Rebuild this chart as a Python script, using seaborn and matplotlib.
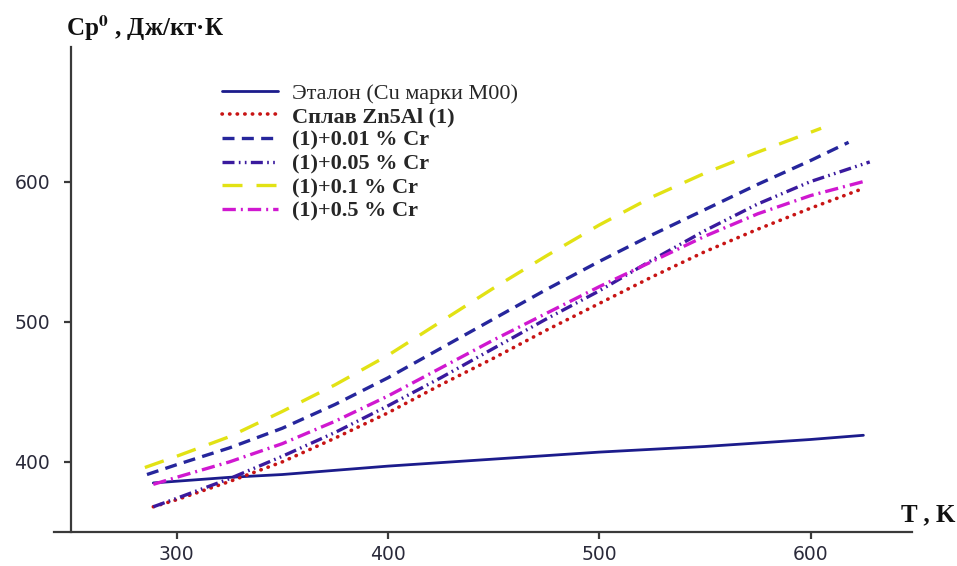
import matplotlib
matplotlib.use("Agg")
import matplotlib.pyplot as plt
import seaborn as sns
import pandas as pd

# ---- data ----
T_etalon = [289, 325, 350, 400, 450, 500, 550, 600, 625]
cp_etalon = [385, 389, 391, 397, 402, 407, 411, 416, 419]

T_zn5al = [289, 300, 325, 350, 375, 400, 425, 450, 475, 500, 525, 550, 575, 600, 623]
cp_zn5al = [368, 373, 386, 400, 417, 435, 455, 474, 494, 513, 532, 550, 566, 581, 594]

T_cr001 = [286, 300, 325, 350, 375, 400, 425, 450, 475, 500, 525, 550, 575, 600, 618]
cp_cr001 = [391, 398, 410, 424, 441, 460, 481, 502, 523, 543, 562, 580, 598, 615, 628]

T_cr005 = [289, 300, 325, 350, 375, 400, 425, 450, 475, 500, 525, 550, 575, 600, 628]
cp_cr005 = [368, 374, 388, 404, 421, 440, 460, 481, 502, 522, 544, 565, 584, 600, 614]

T_cr01 = [285, 300, 325, 350, 375, 400, 425, 450, 475, 500, 525, 550, 575, 605]
cp_cr01 = [396, 404, 418, 436, 455, 476, 500, 524, 547, 569, 589, 606, 621, 638]

T_cr05 = [289, 300, 325, 350, 375, 400, 425, 450, 475, 500, 525, 550, 575, 600, 625]
cp_cr05 = [384, 389, 400, 413, 429, 447, 467, 487, 506, 525, 543, 561, 577, 590, 600]

labels = ["Эталон (Cu марки М00)", "Сплав Zn5Al (1)", "(1)+0.01 % Cr",
          "(1)+0.05 % Cr", "(1)+0.1 % Cr", "(1)+0.5 % Cr"]
x_ticks = [300, 400, 500, 600]
y_ticks = [400, 500, 600]

series = [(T_etalon, cp_etalon), (T_zn5al, cp_zn5al), (T_cr001, cp_cr001),
          (T_cr005, cp_cr005), (T_cr01, cp_cr01), (T_cr05, cp_cr05)]

frames = []
for lab, (t, c) in zip(labels, series):
    frames.append(pd.DataFrame({"T": t, "Cp": c, "series": lab}))
df = pd.concat(frames, ignore_index=True)

# ---- styling ----
sns.set_theme(style="white")
plt.rcParams["font.family"] = ["DejaVu Sans"]
plt.rcParams["mathtext.fontset"] = "stix"

colors = ["#1c1c8c", "#c81414", "#26269c", "#3a1a9e", "#e2e214", "#d018d0"]
styles = ["-", (0, (0.1, 2.0)), (0, (3.6, 2.2)), (0, (3.6, 1.3, 0.5, 1.3, 0.5, 1.3)),
          (0, (6.0, 4.2)), (0, (4.0, 1.5, 0.6, 1.5))]
widths = [2.0, 2.6, 2.4, 2.4, 2.4, 2.4]

fig = plt.figure(figsize=(9.57, 5.66), dpi=100)
ax = fig.add_axes([54 / 957, (566 - 532) / 566, (912 - 54) / 957, (532 - 47) / 566])

for i, lab in enumerate(labels):
    sub = df[df["series"] == lab]
    sns.lineplot(data=sub, x="T", y="Cp", ax=ax, color=colors[i], linestyle=styles[i],
                 linewidth=widths[i], label=lab, estimator=None, sort=False)
    line = ax.get_lines()[-1]
    if i == 1:
        line.set_dash_capstyle("round")

ax.set_xlim(242, 648)
ax.set_ylim(350, 696)
ax.set_xticks(x_ticks)
ax.set_yticks(y_ticks)
ax.set_xlabel("")
ax.set_ylabel("")
for s in ["top", "right"]:
    ax.spines[s].set_visible(False)
ax.spines["left"].set_position(("data", 250))
for s in ["left", "bottom"]:
    ax.spines[s].set_color("#3a3a3a")
    ax.spines[s].set_linewidth(1.6)
ax.tick_params(axis="both", which="major", direction="out", length=5, width=1.6,
               color="#3a3a3a", labelsize=13.5, labelcolor="#2a2a3a",
               bottom=True, left=True)
ax.tick_params(axis="x", pad=4)
ax.tick_params(axis="y", pad=10)
ax.grid(False)

serif = ["Liberation Serif", "DejaVu Serif"]
leg = ax.legend(loc="upper left", bbox_to_anchor=(222 / 957, 1 - 83 / 566),
                bbox_transform=fig.transFigure, frameon=False, borderpad=0,
                borderaxespad=0, handlelength=2.5, handletextpad=0.63,
                labelspacing=0.14, prop={"family": serif, "size": 16})
for j, t in enumerate(leg.get_texts()):
    if j > 0:
        t.set_fontweight("bold")

fig.text(66 / 957, 1 - 28 / 566, r"Cp$^{\mathbf{0}}$ , Дж/кт·К", family=serif,
         fontsize=18, fontweight="bold", va="center", ha="left", color="#111111")
fig.text(955 / 957, 1 - 515 / 566, "T , K", family=serif, fontsize=18,
         fontweight="bold", va="center", ha="right", color="#111111")

fig.savefig("out.png", dpi=100)
